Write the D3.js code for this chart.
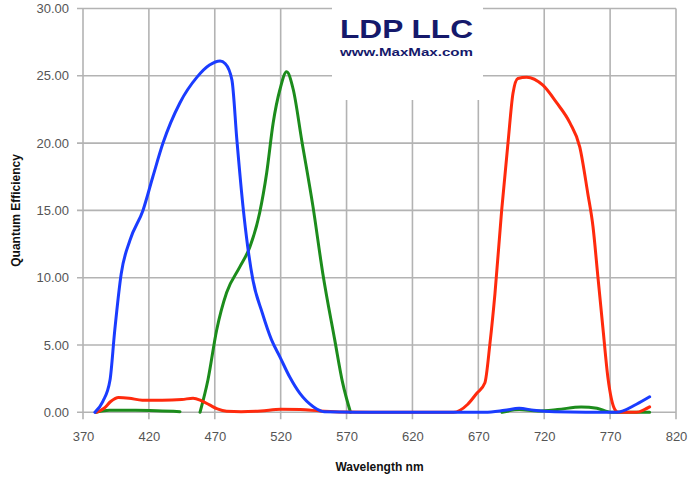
<!DOCTYPE html>
<html>
<head>
<meta charset="utf-8">
<script src="https://cdn.jsdelivr.net/npm/d3@7"></script>
<style>
  html, body { margin: 0; padding: 0; background: #fff; }
  svg { display: block; }
</style>
</head>
<body>
<div id="chart"></div>
<script>
// tick labels
const xTicks = [370, 420, 470, 520, 570, 620, 670, 720, 770, 820];
const yTicks = [0, 5, 10, 15, 20, 25, 30];

// blue channel
const blueNm = [379, 385, 390.5, 394, 399, 405.7, 415.5, 423, 430.7, 443.6, 456.5, 466, 474, 478, 483, 486.8, 491.4, 495, 499, 506, 513, 519.5, 527, 534.6, 545, 553, 600, 675, 690, 701, 712, 728, 775, 790, 800];
const blueQe = [0, 0.8, 2.4, 6, 10.3, 12.8, 15.0, 17.5, 20.0, 23.0, 24.9, 25.8, 26.1, 25.9, 24.7, 20.2, 15.3, 12.3, 9.8, 7.4, 5.4, 4.1, 2.6, 1.4, 0.4, 0.05, 0, 0, 0.15, 0.3, 0.15, 0.05, 0, 0.6, 1.15];

// green channel (null = gap)
const greenNm = [380, 390, 410, 430, 443.6, 450, 458.8, 464.8, 471.4, 479, 489, 496.7, 504, 509.4, 514.3, 519.5, 524.5, 529.5, 536, 544.5, 552, 561, 567, 573, 630, 688, 701, 715, 730, 748, 760, 771, 800];
const greenQe = [0, 0.15, 0.15, 0.1, 0.05, null, 0, 2.4, 6.1, 8.9, 10.8, 12.3, 14.8, 17.8, 21.5, 24, 25.3, 24, 20.2, 15.3, 10.3, 5.4, 2.2, 0, null, 0, 0.2, 0.1, 0.2, 0.4, 0.3, 0, 0];

// red channel
const redNm = [380, 386, 391, 397, 405, 415, 430, 445, 453.5, 460, 466, 472, 479, 490, 505, 520, 535, 550, 567, 600, 651, 662, 668.7, 675, 678.8, 682.6, 687.7, 692.5, 696.3, 700, 706.6, 719, 729.4, 739.5, 747, 753, 757, 760.7, 764.5, 768.3, 773.6, 776, 790, 796, 800];
const redQe = [0, 0.3, 0.8, 1.1, 1.05, 0.9, 0.9, 0.95, 1.05, 0.85, 0.55, 0.25, 0.08, 0.05, 0.1, 0.22, 0.2, 0.1, 0.02, 0, 0, 0.6, 1.4, 2.2, 5.1, 8.8, 15, 20, 23.7, 24.8, 24.9, 24.3, 23, 21.5, 19.7, 16.3, 13.8, 10.1, 6.3, 2.6, 0.2, 0, 0, 0.2, 0.4];

const width = 689, height = 483;
const margin = ({top: 8.5, right: 13, bottom: 70.7, left: 83});

const x = d3.scaleLinear()
  .domain([370, 820])
  .range([margin.left, width - margin.right]);
const y = d3.scaleLinear()
  .domain([0, 30])
  .range([height - margin.bottom, margin.top]);

const svg = d3.select("#chart")
  .append("svg")
  .attr("width", width)
  .attr("height", height)
  .attr("viewBox", [0, 0, width, height]);

const gridColor = "#b3b3b3";

// grid
svg.append("g")
  .attr("stroke", gridColor)
  .attr("stroke-width", 1.6)
  .call(g => g.selectAll("line.h")
    .data(yTicks)
    .join("line")
    .attr("class", "h")
    .attr("x1", x(370) - 6).attr("x2", x(820))
    .attr("y1", d => y(d)).attr("y2", d => y(d)))
  .call(g => g.selectAll("line.v")
    .data(xTicks)
    .join("line")
    .attr("class", "v")
    .attr("x1", d => x(d)).attr("x2", d => x(d))
    .attr("y1", y(30)).attr("y2", y(0) + 7));

// axes labels
const xAxis = g => g
  .attr("transform", `translate(0,${y(0)})`)
  .call(d3.axisBottom(x).tickValues(xTicks).tickSize(0).tickPadding(19))
  .call(g => g.select(".domain").remove());
const yAxis = g => g
  .attr("transform", `translate(${margin.left},0)`)
  .call(d3.axisLeft(y).tickValues(yTicks).tickSize(0).tickPadding(14).tickFormat(d3.format(".2f")))
  .call(g => g.select(".domain").remove());

svg.append("g").call(xAxis);
svg.append("g").call(yAxis);
svg.selectAll(".tick text")
  .attr("font-family", "'Liberation Sans', Arial, sans-serif")
  .attr("font-size", 13)
  .attr("fill", "#555");

svg.append("text")
  .attr("x", x(595))
  .attr("y", 471)
  .attr("text-anchor", "middle")
  .attr("font-family", "'Liberation Sans', Arial, sans-serif")
  .attr("font-weight", "bold")
  .attr("font-size", 12)
  .attr("fill", "#111")
  .text("Wavelength nm");

svg.append("text")
  .attr("transform", `translate(20,${y(15)}) rotate(-90)`)
  .attr("text-anchor", "middle")
  .attr("font-family", "'Liberation Sans', Arial, sans-serif")
  .attr("font-weight", "bold")
  .attr("font-size", 12)
  .attr("fill", "#111")
  .text("Quantum Efficiency");

// logo box covers the grid
svg.append("rect")
  .attr("x", 332).attr("y", 0)
  .attr("width", 151).attr("height", 100)
  .attr("fill", "#fff");

svg.append("text")
  .attr("x", 340).attr("y", 38)
  .attr("textLength", 133)
  .attr("lengthAdjust", "spacingAndGlyphs")
  .attr("font-family", "'Liberation Sans', Arial, sans-serif")
  .attr("font-weight", "bold")
  .attr("font-size", 25)
  .attr("fill", "#15196b")
  .text("LDP LLC");

svg.append("text")
  .attr("x", 340).attr("y", 56)
  .attr("textLength", 133)
  .attr("lengthAdjust", "spacingAndGlyphs")
  .attr("font-family", "'Liberation Sans', Arial, sans-serif")
  .attr("font-weight", "bold")
  .attr("font-size", 11)
  .attr("fill", "#15196b")
  .text("www.MaxMax.com");

// curves
const line = d3.line()
  .defined(d => d[1] != null)
  .x(d => x(d[0]))
  .y(d => y(d[1]))
  .curve(d3.curveMonotoneX);

const series = [
  {name: "green", color: "#1c8c1c", data: d3.zip(greenNm, greenQe)},
  {name: "red", color: "#ff2a0d", data: d3.zip(redNm, redQe)},
  {name: "blue", color: "#1a3cff", data: d3.zip(blueNm, blueQe)}
];

svg.append("g")
  .attr("fill", "none")
  .attr("stroke-width", 3)
  .attr("stroke-linejoin", "round")
  .attr("stroke-linecap", "round")
  .selectAll("path")
  .data(series)
  .join("path")
  .attr("stroke", d => d.color)
  .attr("d", d => line(d.data));
</script>
</body>
</html>
